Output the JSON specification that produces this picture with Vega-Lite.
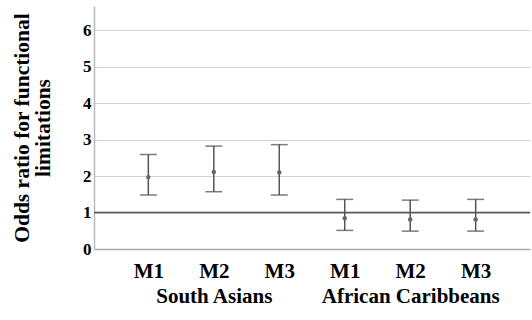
{
  "$schema": "https://vega.github.io/schema/vega-lite/v6.json",
  "width": 436,
  "height": 243,
  "autosize": {"type": "none"},
  "padding": {"left": 94, "top": 6, "right": 2, "bottom": 71},
  "config": {"view": {"stroke": null}, "font": "Liberation Serif", "axis": {"labelFont": "Liberation Serif", "titleFont": "Liberation Serif"}},
  "data": {
    "values": [
      {"key": "South Asians M1", "or": 1.97, "lo": 1.48, "hi": 2.59},
      {"key": "South Asians M2", "or": 2.11, "lo": 1.57, "hi": 2.82},
      {"key": "South Asians M3", "or": 2.10, "lo": 1.48, "hi": 2.86},
      {"key": "African Caribbeans M1", "or": 0.84, "lo": 0.51, "hi": 1.36},
      {"key": "African Caribbeans M2", "or": 0.81, "lo": 0.49, "hi": 1.34},
      {"key": "African Caribbeans M3", "or": 0.81, "lo": 0.49, "hi": 1.36}
    ]
  },
  "encoding": {
    "x": {
      "field": "key",
      "type": "nominal",
      "sort": null,
      "scale": {"type": "point", "padding": 0.83},
      "axis": {
        "title": null,
        "labelAngle": 0,
        "ticks": false,
        "grid": false,
        "domainColor": "#aaaaaa",
        "domainWidth": 1.5,
        "labelFontSize": 21,
        "labelFontWeight": "bold",
        "labelColor": "#000000",
        "labelPadding": 11,
        "labelLineHeight": 25,
        "labelExpr": "datum.value == 'South Asians M2' ? ['M2', 'South Asians'] : datum.value == 'African Caribbeans M2' ? ['M2', 'African Caribbeans'] : slice(datum.value, -2)"
      }
    }
  },
  "layer": [
    {
      "mark": {"type": "rule", "color": "#555555", "strokeWidth": 1.5},
      "encoding": {
        "y": {
          "field": "lo",
          "type": "quantitative",
          "scale": {"domain": [0, 6.66], "nice": false, "zero": true},
          "axis": {
            "title": ["Odds ratio for functional", "limitations"],
            "values": [0, 1, 2, 3, 4, 5, 6],
            "grid": true,
            "gridColor": "#d3d3d3",
            "gridWidth": 1.2,
            "domainColor": "#bbbbbb",
            "domainWidth": 1.5,
            "ticks": false,
            "labelPadding": 3,
            "labelFontSize": 17,
            "labelFontWeight": "bold",
            "labelColor": "#000000",
            "titleFontSize": 21.5,
            "titleFontWeight": "bold",
            "titleColor": "#000000",
            "titlePadding": 28,
            "titleLineHeight": 21
          }
        },
        "y2": {"field": "hi"}
      }
    },
    {
      "data": {"values": [{"ref": 1}]},
      "mark": {"type": "rule", "color": "#555555", "strokeWidth": 1.5},
      "encoding": {"x": null, "y": {"field": "ref", "type": "quantitative"}}
    },
    {
      "mark": {"type": "tick", "color": "#444444", "thickness": 1.5, "size": 17},
      "encoding": {"y": {"field": "lo", "type": "quantitative"}}
    },
    {
      "mark": {"type": "tick", "color": "#444444", "thickness": 1.5, "size": 17},
      "encoding": {"y": {"field": "hi", "type": "quantitative"}}
    },
    {
      "mark": {"type": "circle", "color": "#666666", "size": 20, "opacity": 1},
      "encoding": {"y": {"field": "or", "type": "quantitative"}}
    }
  ]
}
